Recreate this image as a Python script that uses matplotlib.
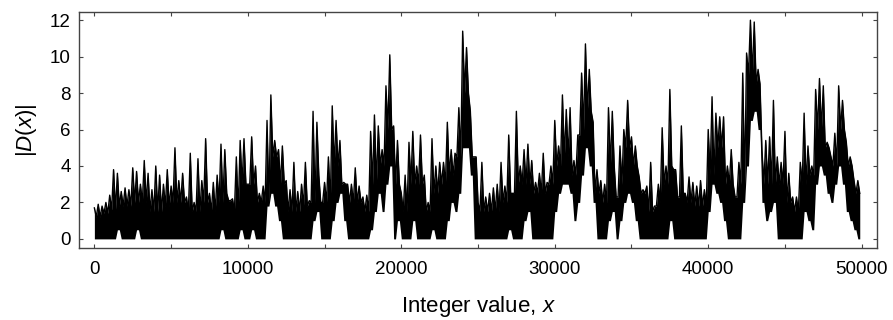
import numpy as np
import matplotlib
matplotlib.use("Agg")
import matplotlib.pyplot as plt
from matplotlib.ticker import MultipleLocator

plt.rcParams['font.family'] = ['Liberation Sans', 'DejaVu Sans']
plt.rcParams['mathtext.fontset'] = 'custom'
plt.rcParams['mathtext.it'] = 'Liberation Sans:italic'
plt.rcParams['mathtext.rm'] = 'Liberation Sans'

# ancho de cada tramo (en unidades de x)
bin_width = 250

# maximo de |D(x)| en cada tramo de 250 (leido a ojo)
upper = [
    1.7, 1.9, 1.8, 2.0, 2.4, 3.8, 3.6, 2.6, 2.8, 2.7, 3.9, 3.7, 3.0, 4.3, 3.6, 2.7, 4.0, 3.5, 3.0, 3.8,
    2.9, 5.0, 3.2, 3.6, 2.3, 4.7, 2.0, 4.4, 3.2, 5.5, 2.5, 3.1, 3.5, 5.2, 4.9, 2.1, 2.2, 4.5, 5.4, 5.5,
    3.0, 5.6, 4.0, 2.5, 2.9, 6.5, 7.9, 5.4, 4.9, 5.1, 3.2, 2.7, 4.2, 2.6, 3.0, 4.2, 2.1, 7.0, 6.4, 2.0,
    3.1, 4.5, 7.3, 6.5, 5.4, 3.1, 3.0, 3.0, 3.9, 2.9, 2.3, 2.4, 5.9, 6.8, 6.2, 4.9, 8.4, 10.1, 6.2, 5.4,
    2.5, 3.5, 5.3, 5.9, 4.0, 5.7, 3.5, 2.0, 5.5, 4.0, 4.2, 4.2, 6.4, 4.9, 4.7, 7.2, 11.4, 10.5, 7.0, 4.5,
    2.0, 4.2, 2.3, 2.5, 2.8, 3.0, 4.2, 2.9, 5.7, 2.5, 7.0, 4.0, 4.9, 5.2, 4.3, 3.1, 3.6, 4.7, 3.1, 4.0,
    6.5, 5.1, 7.9, 7.1, 7.2, 4.3, 5.7, 9.1, 10.7, 9.3, 6.4, 3.8, 3.2, 3.0, 7.2, 7.0, 2.3, 5.1, 6.0, 7.6,
    5.6, 5.1, 3.4, 2.7, 2.9, 4.2, 1.8, 3.0, 6.1, 4.0, 8.2, 3.8, 2.3, 6.2, 2.5, 3.4, 3.1, 2.9, 3.2, 2.7,
    6.0, 7.8, 6.9, 6.7, 6.7, 4.0, 4.9, 2.3, 4.2, 9.1, 10.2, 12.0, 11.9, 9.3, 4.9, 5.4, 5.6, 7.6, 4.5, 4.2,
    5.9, 3.6, 2.3, 2.3, 4.2, 6.9, 5.1, 4.0, 8.2, 8.8, 8.4, 5.3, 4.5, 5.8, 8.4, 7.6, 5.3, 4.5, 3.2, 3.2,
]

# minimo de |D(x)| en cada tramo de 250
lower = [
    0, 0, 0, 0, 0, 0, 0.5, 0, 0, 0, 0, 0.5, 0, 0, 0, 0, 0, 0, 0, 0,
    0, 0, 0, 0, 0, 0, 0, 0, 0, 0, 0, 0, 0, 0.5, 0, 0, 0, 0, 0.5, 0,
    0, 0.5, 0, 0, 0, 1.8, 2.5, 1.8, 1.0, 0, 0, 0, 0, 0, 0, 0, 0, 1.0, 1.5, 0,
    0, 0, 1.0, 2.0, 2.5, 1.0, 0, 0, 0, 0, 0, 0, 0.5, 1.5, 2.5, 1.5, 3.0, 4.0, 0, 1.0,
    0, 0, 0, 1.0, 0, 0, 0, 0, 0.5, 0, 0, 0, 1.0, 2.0, 1.5, 2.5, 5.0, 5.0, 3.5, 0,
    0, 0, 0, 0, 0, 0, 0, 0, 0.5, 0, 0, 0, 1.0, 1.5, 0, 0, 0, 0, 0, 0,
    1.5, 2.5, 3.0, 3.0, 2.5, 1.0, 2.0, 3.5, 5.0, 4.0, 2.0, 0, 0, 0, 1.0, 1.5, 0, 1.0, 2.0, 2.5,
    2.0, 1.0, 0, 0, 0, 0, 0, 0, 0, 0, 1.0, 0, 0, 0, 0, 0, 0, 0, 0, 0,
    1.5, 3.0, 2.5, 2.0, 1.0, 0, 0, 0, 0, 2.0, 4.0, 6.5, 7.0, 6.0, 2.0, 1.0, 1.5, 2.0, 0, 0,
    0, 0, 0, 0, 0, 1.5, 1.0, 0.5, 3.0, 4.0, 3.5, 2.5, 2.0, 3.0, 4.0, 3.0, 1.5, 1.0, 0.5, 0,
]

# nivel de la parte negra densa entre picos, cada 500
body = [
    1.2, 1.4, 1.6, 1.8, 1.8, 2.0, 2.0, 1.5, 1.5, 1.8, 2.0, 2.0, 1.5, 1.5, 2.0, 1.5, 2.0, 2.5, 1.5, 3.0,
    3.0, 2.0, 2.0, 4.5, 3.0, 1.5, 1.5, 1.8, 2.0, 3.5, 2.0, 4.0, 3.0, 2.0, 2.0, 1.5, 3.0, 4.0, 6.0, 3.0,
    1.5, 3.0, 3.0, 1.5, 2.5, 3.0, 3.5, 4.5, 8.0, 4.5, 1.5, 1.5, 1.5, 2.0, 2.5, 3.0, 3.0, 2.5, 2.5, 3.0,
    4.0, 4.5, 3.5, 6.0, 7.0, 2.5, 2.0, 4.0, 3.0, 5.0, 4.0, 2.5, 1.5, 2.0, 3.0, 4.0, 2.5, 2.0, 1.8, 1.8,
    3.5, 5.0, 3.0, 3.0, 3.0, 9.0, 8.5, 3.0, 3.0, 3.0, 2.0, 1.5, 3.0, 3.5, 6.0, 5.0, 4.0, 6.0, 4.0, 2.5,
]

upper = np.array(upper)
lower = np.array(lower)
body = np.clip(np.repeat(body, 2), lower, upper)
x0 = np.arange(len(upper)) * bin_width

# zigzag entre el pico y el cuerpo de cada tramo
xs = np.empty(2 * len(x0))
ys = np.empty(2 * len(x0))
xs[0::2] = x0
xs[1::2] = x0 + bin_width / 2
ys[0::2] = upper
ys[1::2] = body
floor = np.repeat(lower, 2)

fig = plt.figure(figsize=(8.93, 3.2), dpi=100)
ax = fig.add_axes([0.0885, 0.225, 0.8936, 0.7375])
ax.fill_between(xs, floor, ys, color='black', lw=0)
ax.plot(xs, ys, color='black', lw=1.0)

ax.set_xlim(-1000, 51000)
ax.set_ylim(-0.5, 12.45)
ax.xaxis.set_major_locator(MultipleLocator(10000))
ax.xaxis.set_minor_locator(MultipleLocator(5000))
ax.yaxis.set_major_locator(MultipleLocator(2))
ax.tick_params(which='both', direction='in', top=True, right=True,
               length=3, width=0.8, color='#444444', labelsize=13.5)
ax.tick_params(axis='x', pad=9)
ax.tick_params(axis='y', pad=6)
for s in ax.spines.values():
    s.set_color('#444444')
    s.set_linewidth(1.0)

ax.set_xlabel(r'Integer value, $x$', fontsize=16, labelpad=12)
ax.set_ylabel(r'|$D$($x$)|', fontsize=16, labelpad=8)

plt.savefig('out.png', dpi=100)
